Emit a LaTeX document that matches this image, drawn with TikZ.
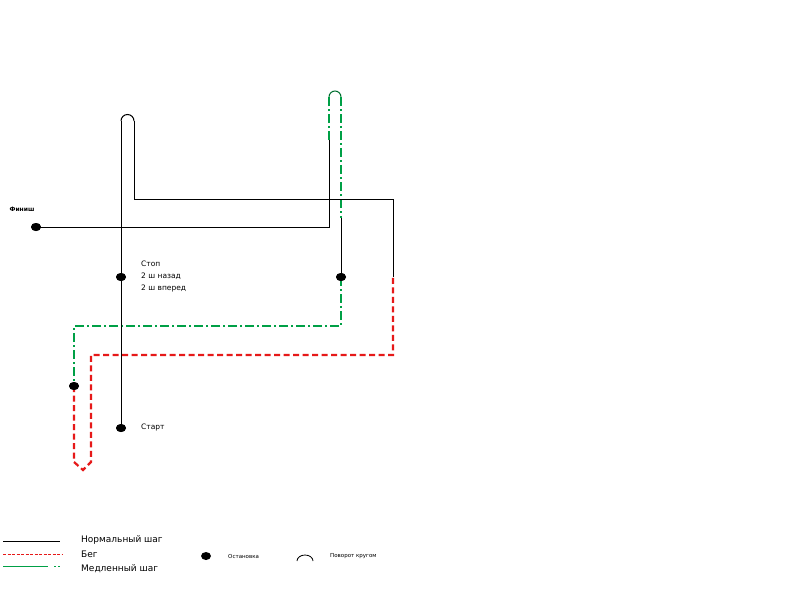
\documentclass[tikz,border=0pt]{standalone}
\usepackage{fontspec}
\setmainfont{DejaVu Sans}
\usetikzlibrary{shapes.geometric}
\definecolor{slowgreen}{RGB}{0,160,70}
\definecolor{runred}{RGB}{230,25,25}
\begin{document}
\begin{tikzpicture}[x=1pt,y=-1pt,
  normal/.style={black, line width=1pt},
  run/.style={runred, dash pattern=on 6pt off 3.5pt, line width=2.2pt},
  slow/.style={slowgreen, dash pattern=on 9pt off 3pt on 2pt off 3pt, line width=1.7pt},
  dot/.style={ellipse, fill=black, minimum width=10pt, minimum height=8pt, inner sep=0pt},
  lbl/.style={font=\fontsize{7.5}{12}\selectfont, anchor=west, inner sep=0pt},
  leg/.style={font=\fontsize{9}{11}\selectfont, anchor=west, inner sep=0pt},
  small/.style={font=\fontsize{5.5}{7}\selectfont, anchor=west, inner sep=0pt}]
\useasboundingbox (0,0) rectangle (800,597);
\fill[white] (0,0) rectangle (800,597);
% dots
\node[dot] (finish) at (36,227) {};
\node[dot] (stop) at (121,277) {};
\node[dot] (start) at (121,428) {};
\node[dot] (stopb) at (341,277) {};
\node[dot] (stopc) at (74,386) {};
% coordinates
\coordinate (a1) at (329,227);
\coordinate (a2) at (329,140);
\coordinate (a3) at (329,97);
\coordinate (a4) at (341,97);
\coordinate (a5) at (341,218);
\coordinate (g1) at (341,326);
\coordinate (g2) at (74,326);
\coordinate (r1) at (74,462);
\coordinate (r2) at (83,470);
\coordinate (r3) at (91,462);
\coordinate (r4) at (91,355);
\coordinate (r5) at (393,355);
\coordinate (r6) at (393,277);
\coordinate (b1) at (393,199);
\coordinate (b2) at (134,199);
\coordinate (b3) at (134,121);
\coordinate (b4) at (121,121);
% paths
\draw[normal] (finish.center) -- (a1) -- (a2);
\draw[slow] (a2) -- (a3);
\draw[slowgreen!70!black, line width=1pt] (a3) arc[start angle=180, end angle=0, radius=6pt];
\draw[slow] (a4) -- (a5);
\draw[normal] (a5) -- (stopb.center);
\draw[slow] (stopb.center) -- (g1) -- (g2) -- (stopc.center);
\draw[run] (stopc.center) -- (r1) -- (r2) -- (r3) -- (r4) -- (r5) -- (r6);
\draw[normal] (r6) -- (b1) -- (b2) -- (b3);
\draw[normal] (b3) arc[start angle=0, end angle=180, radius=6.5pt];
\draw[normal] (b4) -- (start.center);
\node[dot] at (stop.center) {};
\node[dot] at (start.center) {};
\node[dot] at (stopb.center) {};
\node[dot] at (stopc.center) {};
\node[dot] at (finish.center) {};
% labels
\node[font=\bfseries\fontsize{6}{7}\selectfont, inner sep=0pt] (tfin) at (22,209) {Финиш};
\node[lbl, anchor=north west, align=left] (tstop) at (141,261) {Стоп\\2 ш назад\\2 ш вперед};
\node[lbl] (tstart) at (141,427) {Старт};
% legend
\coordinate (l1a) at (3,541); \coordinate (l1b) at (60,541);
\coordinate (l2a) at (3,554); \coordinate (l2b) at (62,554);
\coordinate (l3a) at (3,566); \coordinate (l3b) at (60,566);
\draw[normal] (l1a) -- (l1b);
\draw[runred, line width=0.8pt, dash pattern=on 3pt off 1.5pt] (l2a) -- (l2b);
\draw[slowgreen, line width=0.8pt, dash pattern=on 45pt off 6pt on 2pt off 2pt] (l3a) -- (l3b);
\node[leg] (n1) at (81,540) {Нормальный шаг};
\node[leg] (n2) at (81,554) {Бег};
\node[leg] (n3) at (81,569) {Медленный шаг};
\node[dot] (ld) at (206,556) {};
\node[small] (ls) at (228,556) {Остановка};
\coordinate (la) at (297,561);
\draw[black, line width=0.8pt] (la) arc[start angle=180, end angle=0, x radius=8pt, y radius=6pt];
\node[small] (lt) at (330,556) {Поворот кругом};
\end{tikzpicture}
\end{document}
